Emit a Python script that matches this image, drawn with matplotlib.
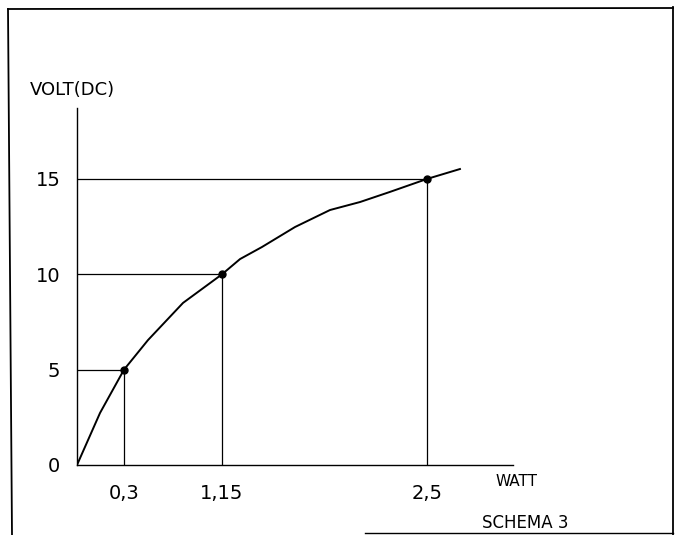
import numpy as np
import matplotlib
matplotlib.use("Agg")
import matplotlib.pyplot as plt
from matplotlib.lines import Line2D
from matplotlib.ticker import NullLocator

# data (watt -> volt DC)
curve_w = [0.0, 0.147, 0.3, 0.508, 0.812, 1.15, 1.269, 1.413, 1.631, 1.861, 2.059, 2.256, 2.5, 2.717]
curve_v = [0.0, 2.73, 5.0, 6.55, 8.5, 10.0, 10.8, 11.43, 12.48, 13.37, 13.79, 14.32, 15.0, 15.52]
point_w = [0.3, 1.15, 2.5]
point_v = [5, 10, 15]
xtick_labels = ["0,3", "1,15", "2,5"]
yticks = [0, 5, 10, 15]

# the sketch's watt axis is not evenly spaced: piecewise scale through the marked ticks
knot_w = np.array([0.0, 0.3, 1.15, 2.5])
knot_u = np.array([0.0, 47.0, 145.0, 350.0])
slope_lo = (knot_u[1] - knot_u[0]) / (knot_w[1] - knot_w[0])
slope_hi = (knot_u[-1] - knot_u[-2]) / (knot_w[-1] - knot_w[-2])


def fwd(w):
    w = np.asarray(w, dtype=float)
    u = np.interp(w, knot_w, knot_u)
    u = np.where(w > knot_w[-1], knot_u[-1] + (w - knot_w[-1]) * slope_hi, u)
    u = np.where(w < knot_w[0], knot_u[0] + (w - knot_w[0]) * slope_lo, u)
    return u


def inv(u):
    u = np.asarray(u, dtype=float)
    w = np.interp(u, knot_u, knot_w)
    w = np.where(u > knot_u[-1], knot_w[-1] + (u - knot_u[-1]) / slope_hi, w)
    w = np.where(u < knot_u[0], knot_w[0] + (u - knot_u[0]) / slope_lo, w)
    return w


W, H = 683, 535
fig = plt.figure(figsize=(W / 100, H / 100), dpi=100)
ax = fig.add_axes([77 / W, 70 / H, 436 / W, 357 / H])

ax.set_xscale("function", functions=(fwd, inv))
ax.set_xlim(0, inv(436.0))
ax.set_ylim(0, 18.72)

# guide lines from each point to both axes
for w, v in zip(point_w, point_v):
    ax.plot([0, w], [v, v], color="black", lw=0.9, solid_capstyle="butt")
    ax.plot([w, w], [0, v], color="black", lw=0.9, solid_capstyle="butt")

ax.plot(curve_w, curve_v, color="black", lw=1.4, solid_joinstyle="round")
ax.plot(point_w, point_v, "o", color="black", ms=5)

for side in ["top", "right"]:
    ax.spines[side].set_visible(False)
for side in ["left", "bottom"]:
    ax.spines[side].set_linewidth(1.0)

ax.set_xticks(point_w)
ax.set_xticklabels(xtick_labels)
ax.xaxis.set_minor_locator(NullLocator())
ax.set_yticks(yticks)
ax.set_yticklabels([str(t) for t in yticks])
ax.tick_params(axis="x", length=0, pad=14, labelsize=14)
ax.tick_params(axis="y", length=0, pad=12, labelsize=14)
ax.patch.set_alpha(0)

fig.text(30 / W, 1 - 90 / H, "VOLT(DC)", ha="left", va="center", fontsize=13)
fig.text(495 / W, 1 - 482 / H, "WATT", ha="left", va="center", fontsize=11)
fig.text(482 / W, 1 - 523 / H, "SCHEMA 3", ha="left", va="center", fontsize=12)

# hand-drawn frame around the sketch
def frame_line(x0, y0, x1, y1, lw=1.3):
    fig.add_artist(Line2D([x0 / W, x1 / W], [1 - y0 / H, 1 - y1 / H],
                          color="black", lw=lw))

frame_line(8, 9, 673, 8)
frame_line(8, 9, 12, 535)
frame_line(673, 7, 673, 535)
frame_line(365, 533, 673, 533, lw=1.0)

fig.savefig("out.png", dpi=100)
